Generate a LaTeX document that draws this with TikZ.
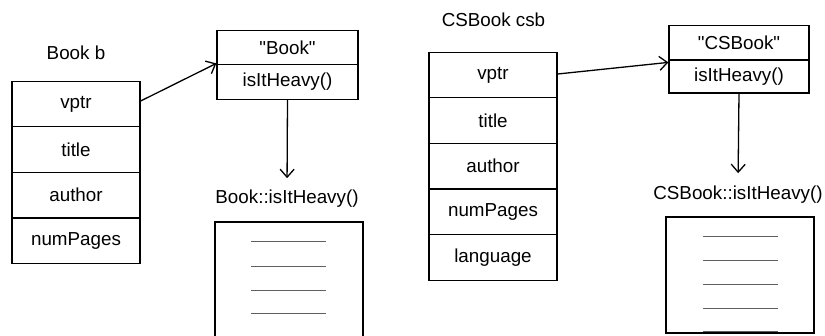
\documentclass[tikz,border=0pt]{standalone}
\usepackage{fontspec}
\setmainfont{Liberation Sans}
\usetikzlibrary{arrows.meta}
\tikzset{
  txt/.style={font=\fontsize{18.8}{22}\selectfont, inner sep=0pt},
  field/.style={draw, line width=1.3pt, txt, minimum width=128pt, minimum height=45.6pt},
  vrow/.style={draw, line width=1.3pt, txt, minimum width=141pt, minimum height=34.5pt},
  link/.style={line width=1.3pt, -{Straight Barb[length=8pt, width=14pt, line width=1.3pt]}},
  codebox/.style={line width=1.3pt},
  codeline/.style={line width=1pt, gray!75!black}
}
\begin{document}
\begin{tikzpicture}[x=1pt, y=-1pt]
\useasboundingbox (0,0) rectangle (825,335);

% object b of class Book
\node[txt, anchor=base] (bname) at (76,59) {Book b};
\node[field] (bvptr)  at (76,104)   {vptr};
\node[field] (btitle) at (76,149.6) {title};
\node[field] (bauth)  at (76,195.2) {author};
\node[field] (bpages) at (76,240.8) {numPages};

% vtable of Book
\node[vrow] (bvt)  at (287.5,47.5) {\textquotedbl Book\textquotedbl};
\node[vrow] (bfun) at (287.5,82)   {isItHeavy()};
\node[txt, anchor=base] (bcode) at (287,203) {Book::isItHeavy()};

\draw[link] ([yshift=3pt]bvptr.east) -- ([yshift=2pt]bvt.south west);
\draw[link, shorten >=11pt] (bfun.south) -- (bcode.north);

% body of Book::isItHeavy()
\draw[codebox] (215,336) -- (215,222) -- (363,222) -- (363,336);
\foreach \y in {241,266,290,313}
  \draw[codeline] (251,\y) -- (326,\y);

% object csb of class CSBook
\node[txt, anchor=base] (cname) at (493.5,26) {CSBook csb};
\node[field] (cvptr)  at (493,75)    {vptr};
\node[field] (ctitle) at (493,120.6) {title};
\node[field] (cauth)  at (493,166.2) {author};
\node[field] (cpages) at (493,211.8) {numPages};
\node[field] (clang)  at (493,257.4) {language};

% vtable of CSBook
\node[vrow, minimum width=140pt] (cvt)  at (739,42.5) {\textquotedbl CSBook\textquotedbl};
\node[vrow, minimum width=140pt, minimum height=33pt] (cfun) at (739,76.5) {isItHeavy()};
\node[txt, anchor=base] (ccode) at (738,199) {CSBook::isItHeavy()};

\draw[link] ([yshift=1pt]cvptr.east) -- ([yshift=-2pt]cvt.south west);
\draw[link, shorten >=12pt] (cfun.south) -- (ccode.north);

% body of CSBook::isItHeavy()
\draw[codebox] (666,217) rectangle (814,333);
\foreach \y in {236,260,284,308,331}
  \draw[codeline] (703,\y) -- (778,\y);
\end{tikzpicture}
\end{document}
